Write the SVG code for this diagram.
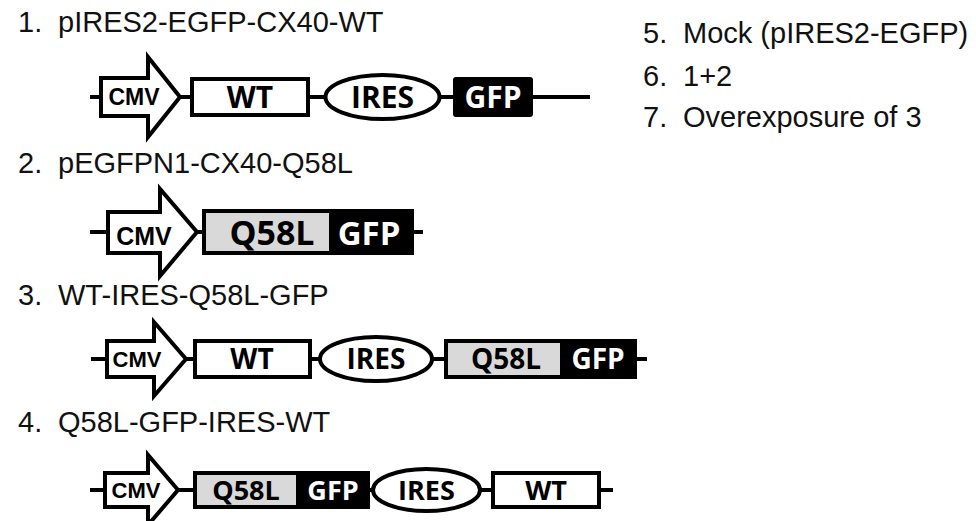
<svg xmlns="http://www.w3.org/2000/svg" width="976" height="521" viewBox="0 0 976 521">
<style>
.lbl{font-family:"Liberation Sans",Arial,sans-serif;font-size:29px;fill:#111}
.bb{stroke:#000;stroke-width:4;fill:none}
.sh{stroke:#000;stroke-width:4;stroke-linejoin:miter}
.w{fill:#fff}
.g{fill:#d9d9d9}
.k{fill:#000}
.cmv{font-family:"Liberation Sans",Arial,sans-serif;font-weight:bold;fill:#000;text-anchor:middle}
.t{font-family:"Open Sans","DejaVu Sans",sans-serif;font-weight:bold;text-anchor:middle}
.tb{fill:#000}
.tw{fill:#fff}
</style>
<rect width="976" height="521" fill="#fff"/>
<g id="labels">
<text class="lbl" x="18" y="32">1.</text><text class="lbl" x="58" y="32">pIRES2-EGFP-CX40-WT</text>
<text class="lbl" x="18" y="173">2.</text><text class="lbl" x="58" y="173">pEGFPN1-CX40-Q58L</text>
<text class="lbl" x="18" y="305">3.</text><text class="lbl" x="58" y="305">WT-IRES-Q58L-GFP</text>
<text class="lbl" x="18" y="432">4.</text><text class="lbl" x="58" y="432">Q58L-GFP-IRES-WT</text>
<text class="lbl" x="643" y="43">5.</text><text class="lbl" x="683" y="43">Mock (pIRES2-EGFP)</text>
<text class="lbl" x="643" y="86">6.</text><text class="lbl" x="683" y="86">1+2</text>
<text class="lbl" x="643" y="127">7.</text><text class="lbl" x="683" y="127">Overexposure of 3</text>
</g>
<g id="connectors">
<line class="bb" x1="90" y1="97" x2="590" y2="97"/>
<line class="bb" x1="90" y1="232" x2="423" y2="232"/>
<line class="bb" x1="91" y1="359" x2="647" y2="359"/>
<line class="bb" x1="90" y1="490" x2="613" y2="490"/>
</g>
<g id="construct1">
<g id="c1-cmv"><polygon class="sh w" points="101,78 148,78 148,57 180,97 148,137 148,116 101,116"/><text class="cmv" x="134" y="105" font-size="23">CMV</text></g>
<g id="c1-wt"><rect class="sh w" x="192" y="79" width="116" height="36"/><text class="t tb" x="250" y="108" font-size="30">WT</text></g>
<g id="c1-ires"><ellipse class="sh w" cx="382.5" cy="97" rx="57" ry="22"/><text class="t tb" x="382.5" y="108" font-size="30">IRES</text></g>
<g id="c1-gfp"><rect class="sh k" x="455" y="79" width="76" height="36" rx="1"/><text class="t tw" x="493" y="108" font-size="30">GFP</text></g>
</g>
<g id="construct2">
<g id="c2-cmv"><polygon class="sh w" points="108,212 160,212 160,189 197,232 160,276 160,253 108,253"/><text class="cmv" x="144" y="245" font-size="25">CMV</text></g>
<g id="c2-q58l"><rect class="sh g" x="204" y="211" width="127" height="42"/><text class="t tb" x="272" y="245" font-size="34">Q58L</text></g>
<g id="c2-gfp"><rect class="sh k" x="331" y="211" width="81" height="42"/><text class="t tw" x="369" y="245" font-size="33">GFP</text></g>
</g>
<g id="construct3">
<g id="c3-cmv"><polygon class="sh w" points="107,341 154,341 154,322 186,359 154,396 154,377 107,377"/><text class="cmv" x="137" y="367" font-size="22">CMV</text></g>
<g id="c3-wt"><rect class="sh w" x="195" y="341" width="115" height="36"/><text class="t tb" x="252" y="369" font-size="28">WT</text></g>
<g id="c3-ires"><ellipse class="sh w" cx="376" cy="359" rx="56" ry="22"/><text class="t tb" x="376" y="369" font-size="28">IRES</text></g>
<g id="c3-q58l"><rect class="sh g" x="446" y="341" width="116" height="36"/><text class="t tb" x="506" y="369" font-size="28">Q58L</text></g>
<g id="c3-gfp"><rect class="sh k" x="562" y="341" width="73" height="36"/><text class="t tw" x="598" y="369" font-size="28">GFP</text></g>
</g>
<g id="construct4">
<g id="c4-cmv"><polygon class="sh w" points="105,473 148,473 148,455 178,490 148,525 148,507 105,507"/><text class="cmv" x="136" y="498" font-size="22">CMV</text></g>
<g id="c4-q58l"><rect class="sh g" x="195" y="473" width="103" height="34"/><text class="t tb" x="246" y="500" font-size="27">Q58L</text></g>
<g id="c4-gfp"><rect class="sh k" x="298" y="473" width="70" height="34"/><text class="t tw" x="333" y="500" font-size="27">GFP</text></g>
<g id="c4-ires"><ellipse class="sh w" cx="426.5" cy="490" rx="53.5" ry="21"/><text class="t tb" x="426.5" y="500" font-size="27">IRES</text></g>
<g id="c4-wt"><rect class="sh w" x="493" y="473" width="106" height="34"/><text class="t tb" x="546" y="500" font-size="27">WT</text></g>
</g>
</svg>
